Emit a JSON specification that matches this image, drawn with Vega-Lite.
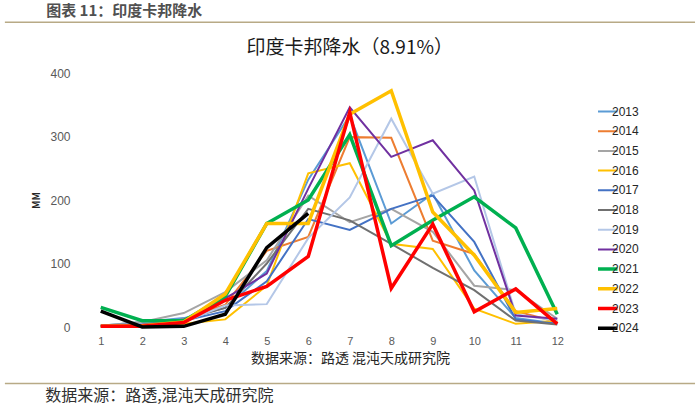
{
  "$schema": "https://vega.github.io/schema/vega-lite/v6.json",
  "autosize": "none",
  "width": 498,
  "height": 254,
  "padding": {"left": 80, "top": 73, "right": 122, "bottom": 79},
  "background": "white",
  "config": {"view": {"stroke": null}, "font": "Noto Sans CJK SC"},
  "title": {"text": "图表 11：印度卡邦降水", "fontSize": 15, "fontWeight": "bold", "color": "#505050", "anchor": "start", "frame": "bounds", "dx": 42, "offset": 2, "font": "Noto Sans CJK SC"},
  "datasets": {
    "rain": [
      {"year": "2013", "month": 1, "mm": 2}, {"year": "2013", "month": 2, "mm": 8}, {"year": "2013", "month": 3, "mm": 14}, {"year": "2013", "month": 4, "mm": 30}, {"year": "2013", "month": 5, "mm": 88}, {"year": "2013", "month": 6, "mm": 232}, {"year": "2013", "month": 7, "mm": 333}, {"year": "2013", "month": 8, "mm": 163}, {"year": "2013", "month": 9, "mm": 210}, {"year": "2013", "month": 10, "mm": 89}, {"year": "2013", "month": 11, "mm": 14}, {"year": "2013", "month": 12, "mm": 5},
      {"year": "2014", "month": 1, "mm": 1}, {"year": "2014", "month": 2, "mm": 4}, {"year": "2014", "month": 3, "mm": 12}, {"year": "2014", "month": 4, "mm": 35}, {"year": "2014", "month": 5, "mm": 120}, {"year": "2014", "month": 6, "mm": 142}, {"year": "2014", "month": 7, "mm": 299}, {"year": "2014", "month": 8, "mm": 298}, {"year": "2014", "month": 9, "mm": 136}, {"year": "2014", "month": 10, "mm": 115}, {"year": "2014", "month": 11, "mm": 25}, {"year": "2014", "month": 12, "mm": 8},
      {"year": "2015", "month": 1, "mm": 2}, {"year": "2015", "month": 2, "mm": 8}, {"year": "2015", "month": 3, "mm": 22}, {"year": "2015", "month": 4, "mm": 55}, {"year": "2015", "month": 5, "mm": 105}, {"year": "2015", "month": 6, "mm": 207}, {"year": "2015", "month": 7, "mm": 165}, {"year": "2015", "month": 8, "mm": 186}, {"year": "2015", "month": 9, "mm": 150}, {"year": "2015", "month": 10, "mm": 65}, {"year": "2015", "month": 11, "mm": 58}, {"year": "2015", "month": 12, "mm": 13},
      {"year": "2016", "month": 1, "mm": 1}, {"year": "2016", "month": 2, "mm": 3}, {"year": "2016", "month": 3, "mm": 5}, {"year": "2016", "month": 4, "mm": 12}, {"year": "2016", "month": 5, "mm": 65}, {"year": "2016", "month": 6, "mm": 242}, {"year": "2016", "month": 7, "mm": 258}, {"year": "2016", "month": 8, "mm": 131}, {"year": "2016", "month": 9, "mm": 123}, {"year": "2016", "month": 10, "mm": 29}, {"year": "2016", "month": 11, "mm": 5}, {"year": "2016", "month": 12, "mm": 10},
      {"year": "2017", "month": 1, "mm": 2}, {"year": "2017", "month": 2, "mm": 5}, {"year": "2017", "month": 3, "mm": 10}, {"year": "2017", "month": 4, "mm": 25}, {"year": "2017", "month": 5, "mm": 72}, {"year": "2017", "month": 6, "mm": 170}, {"year": "2017", "month": 7, "mm": 153}, {"year": "2017", "month": 8, "mm": 186}, {"year": "2017", "month": 9, "mm": 207}, {"year": "2017", "month": 10, "mm": 134}, {"year": "2017", "month": 11, "mm": 12}, {"year": "2017", "month": 12, "mm": 5},
      {"year": "2018", "month": 1, "mm": 2}, {"year": "2018", "month": 2, "mm": 3}, {"year": "2018", "month": 3, "mm": 12}, {"year": "2018", "month": 4, "mm": 30}, {"year": "2018", "month": 5, "mm": 100}, {"year": "2018", "month": 6, "mm": 186}, {"year": "2018", "month": 7, "mm": 168}, {"year": "2018", "month": 8, "mm": 131}, {"year": "2018", "month": 9, "mm": 93}, {"year": "2018", "month": 10, "mm": 58}, {"year": "2018", "month": 11, "mm": 10}, {"year": "2018", "month": 12, "mm": 4},
      {"year": "2019", "month": 1, "mm": 1}, {"year": "2019", "month": 2, "mm": 5}, {"year": "2019", "month": 3, "mm": 8}, {"year": "2019", "month": 4, "mm": 34}, {"year": "2019", "month": 5, "mm": 36}, {"year": "2019", "month": 6, "mm": 140}, {"year": "2019", "month": 7, "mm": 204}, {"year": "2019", "month": 8, "mm": 328}, {"year": "2019", "month": 9, "mm": 210}, {"year": "2019", "month": 10, "mm": 237}, {"year": "2019", "month": 11, "mm": 20}, {"year": "2019", "month": 12, "mm": 10},
      {"year": "2020", "month": 1, "mm": 1}, {"year": "2020", "month": 2, "mm": 4}, {"year": "2020", "month": 3, "mm": 10}, {"year": "2020", "month": 4, "mm": 45}, {"year": "2020", "month": 5, "mm": 84}, {"year": "2020", "month": 6, "mm": 218}, {"year": "2020", "month": 7, "mm": 346}, {"year": "2020", "month": 8, "mm": 268}, {"year": "2020", "month": 9, "mm": 294}, {"year": "2020", "month": 10, "mm": 215}, {"year": "2020", "month": 11, "mm": 18}, {"year": "2020", "month": 12, "mm": 13},
      {"year": "2021", "month": 1, "mm": 31}, {"year": "2021", "month": 2, "mm": 10}, {"year": "2021", "month": 3, "mm": 10}, {"year": "2021", "month": 4, "mm": 48}, {"year": "2021", "month": 5, "mm": 163}, {"year": "2021", "month": 6, "mm": 200}, {"year": "2021", "month": 7, "mm": 303}, {"year": "2021", "month": 8, "mm": 128}, {"year": "2021", "month": 9, "mm": 168}, {"year": "2021", "month": 10, "mm": 205}, {"year": "2021", "month": 11, "mm": 156}, {"year": "2021", "month": 12, "mm": 20},
      {"year": "2022", "month": 1, "mm": 1}, {"year": "2022", "month": 2, "mm": 2}, {"year": "2022", "month": 3, "mm": 8}, {"year": "2022", "month": 4, "mm": 52}, {"year": "2022", "month": 5, "mm": 163}, {"year": "2022", "month": 6, "mm": 163}, {"year": "2022", "month": 7, "mm": 335}, {"year": "2022", "month": 8, "mm": 372}, {"year": "2022", "month": 9, "mm": 181}, {"year": "2022", "month": 10, "mm": 113}, {"year": "2022", "month": 11, "mm": 23}, {"year": "2022", "month": 12, "mm": 29},
      {"year": "2023", "month": 1, "mm": 1}, {"year": "2023", "month": 2, "mm": 1}, {"year": "2023", "month": 3, "mm": 7}, {"year": "2023", "month": 4, "mm": 42}, {"year": "2023", "month": 5, "mm": 64}, {"year": "2023", "month": 6, "mm": 111}, {"year": "2023", "month": 7, "mm": 338}, {"year": "2023", "month": 8, "mm": 61}, {"year": "2023", "month": 9, "mm": 162}, {"year": "2023", "month": 10, "mm": 24}, {"year": "2023", "month": 11, "mm": 60}, {"year": "2023", "month": 12, "mm": 5},
      {"year": "2024", "month": 1, "mm": 25}, {"year": "2024", "month": 2, "mm": 0}, {"year": "2024", "month": 3, "mm": 1}, {"year": "2024", "month": 4, "mm": 20}, {"year": "2024", "month": 5, "mm": 125}, {"year": "2024", "month": 6, "mm": 179}
    ]
  },
  "layer": [
    {
      "data": {"values": [{}]},
      "mark": {"type": "rule", "color": "#B8AA86", "strokeWidth": 1.5, "clip": false},
      "encoding": {"x": {"datum": -1.31, "type": "quantitative"}, "x2": {"datum": 15.32}, "y": {"datum": 480, "type": "quantitative"}}
    },
    {
      "data": {"values": [{}]},
      "mark": {"type": "rule", "color": "#B8AA86", "strokeWidth": 1.5, "clip": false},
      "encoding": {"x": {"datum": -1.31, "type": "quantitative"}, "x2": {"datum": 15.32}, "y": {"datum": -89, "type": "quantitative"}}
    },
    {
      "data": {"values": [{}]},
      "mark": {"type": "text", "align": "center", "baseline": "middle", "fontSize": 19, "color": "#1A1A1A", "clip": false},
      "encoding": {"x": {"datum": 7.0, "type": "quantitative"}, "y": {"datum": 440, "type": "quantitative"}, "text": {"value": "印度卡邦降水（8.91%）"}}
    },
    {
      "data": {"values": [{}]},
      "mark": {"type": "text", "align": "left", "baseline": "middle", "fontSize": 16, "color": "#303030", "clip": false},
      "encoding": {"x": {"datum": -0.34, "type": "quantitative"}, "y": {"datum": -108, "type": "quantitative"}, "text": {"value": "数据来源：路透,混沌天成研究院"}}
    },
    {
      "data": {"name": "rain"},
      "transform": [{"filter": "toNumber(datum.year) < 2021"}],
      "mark": {"type": "line", "strokeWidth": 2, "clip": false},
      "encoding": {
        "x": {"field": "month", "type": "quantitative", "scale": {"domain": [0.5, 12.5], "nice": false, "zero": false},
          "axis": {"values": [1,2,3,4,5,6,7,8,9,10,11,12], "grid": false, "ticks": false, "domain": false, "labelFontSize": 11, "labelColor": "#595959", "labelPadding": 8, "labelFont": "Liberation Sans",
            "title": "数据来源：路透 混沌天成研究院", "titleFontSize": 14, "titleFontWeight": "normal", "titleColor": "#262626", "titleX": 270, "titlePadding": 5}},
        "y": {"field": "mm", "type": "quantitative", "scale": {"domain": [0, 400], "nice": false},
          "axis": {"values": [0,50,100,150,200,250,300,350,400], "gridColor": "#D9D9D9", "gridWidth": 1, "ticks": false, "domain": false, "labelFontSize": 12, "labelColor": "#595959", "labelPadding": 10, "labelFont": "Liberation Sans",
            "title": "MM", "titleFontSize": 10, "titleFontWeight": "bold", "titleColor": "#262626", "titlePadding": 8}},
        "color": {"field": "year", "type": "nominal",
          "scale": {"domain": ["2013","2014","2015","2016","2017","2018","2019","2020","2021","2022","2023","2024"],
            "range": ["#5B9BD5","#ED7D31","#A5A5A5","#FFC000","#4472C4","#707070","#B4C7E7","#7030A0","#00B050","#FFC000","#FF0000","#000000"]},
          "legend": {"title": null, "orient": "none", "legendX": 518, "legendY": 31, "symbolType": "stroke", "symbolSize": 729, "clipHeight": 15, "rowPadding": 4.7, "labelFontSize": 12, "labelColor": "#262626", "labelFont": "Liberation Sans", "labelOffset": 2, "padding": 0,
            "encode": {"symbols": {"update": {"strokeWidth": {"signal": "toNumber(datum.value) >= 2021 ? 3.5 : 2"}}}}}},
        "detail": {"field": "year"}
      }
    },
    {
      "data": {"name": "rain"},
      "transform": [{"filter": "toNumber(datum.year) >= 2021"}],
      "mark": {"type": "line", "strokeWidth": 3.5, "clip": false},
      "encoding": {
        "x": {"field": "month", "type": "quantitative"},
        "y": {"field": "mm", "type": "quantitative"},
        "color": {"field": "year", "type": "nominal"}
      }
    }
  ]
}
